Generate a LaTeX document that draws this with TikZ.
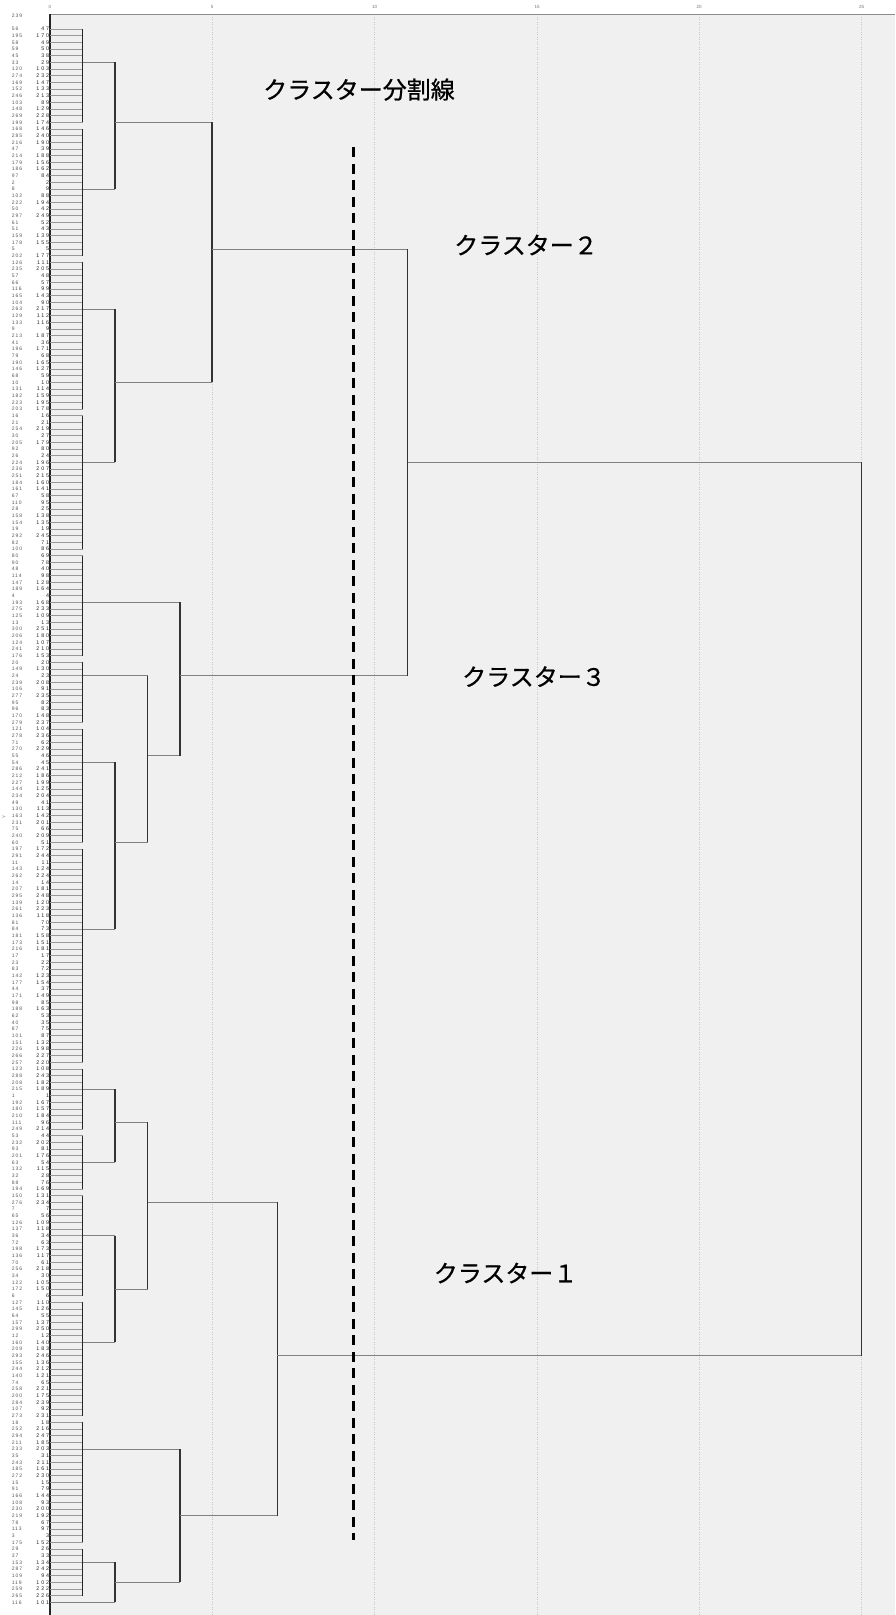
\documentclass[tikz,border=0pt]{standalone}
\usepackage{fontspec}
\setmainfont{Liberation Sans}
\newfontfamily\jpfont[FakeBold=0.7]{Noto Sans CJK JP}
\newfontfamily\casefont[LetterSpace=18]{Liberation Sans}
\newfontfamily\idfont[LetterSpace=36]{Liberation Sans}
\definecolor{plotbg}{HTML}{F0F0F0}
\newcommand{\rowy}[1]{29+6.6667*(#1)}

\begin{document}
\begin{tikzpicture}[x=1pt,y=-1pt]
    \tikzstyle{leaf}=[draw=black!40,line width=0.7pt]
    \tikzstyle{bar}=[draw=black!85,line width=1.1pt]
    \tikzstyle{hlink}=[draw=black!50,line width=0.8pt]
    \tikzstyle{vlink}=[draw=black!80,line width=1.3pt]
    \tikzstyle{grid}=[draw=black!22,line width=0.5pt,dotted]
    \tikzstyle{caselbl}=[anchor=west,inner sep=0pt,text=black!65,
        font=\casefont\fontsize{5}{5}\selectfont]
    \tikzstyle{idlbl}=[anchor=east,inner sep=0pt,text=black!85,
        font=\idfont\fontsize{5.3}{5.3}\selectfont]
    \tikzstyle{tick}=[inner sep=0pt,text=black!55,font=\fontsize{4.5}{4.5}\selectfont]
    \tikzstyle{jptext}=[inner sep=0pt,font=\jpfont\fontsize{24}{24}\selectfont]
    \tikzstyle{cutline}=[line width=2.8pt,dash pattern=on 10pt off 6.5pt]
    \useasboundingbox (0,0) rectangle (895,1615);
    % Background and axis
    \fill[white] (0,0) rectangle (895,1615);
    \fill[plotbg] (50,14) rectangle (895,1615);
    \foreach \v/\gx in {0/50,5/212,10/374.7,15/537,20/699,25/861.7}
        \node[tick] (t\v) at (\gx,7) {\v};
    \foreach \gx in {212,374.7,537,699,861.7} \draw[grid] (\gx,14) -- (\gx,1615);
    \draw[black!45,line width=0.8pt] (50,14) -- (895,14);
    \draw[black!85,line width=1.2pt] (50,14) -- (50,1615);
    \node[caselbl] (hdr) at (11.7,15.3) {239};
    \node[tick,rotate=90] (ylbl) at (4,817) {Y};
    % Cases
    \foreach \cs/\id [count=\i from 0] in {56/47,195/170,58/49,59/50,45/38,33/29,
        120/103,274/232,169/147,152/133,246/213,103/89,148/129,269/228,199/174,
        168/146,285/240,216/190,47/39,214/188,179/156,186/162,97/84,2/2,8/9,
        102/88,222/194,50/42,297/249,61/52,51/43,159/139,178/155,5/5,202/177,
        126/111,235/205,57/48,66/57,116/99,165/143,104/90,263/217,129/112,
        133/116,9/9,213/187,41/36,196/171,79/68,190/165,146/127,68/59,10/10,
        131/114,182/159,223/195,203/178,16/16,21/21,254/219,30/27,205/179,
        92/80,26/24,224/196,236/207,251/215,184/160,161/141,67/58,110/95,
        28/25,158/138,154/135,19/19,292/245,82/71,100/86,80/69,90/78,48/40,
        114/98,147/128,189/164,4/4,193/168,275/233,125/109,13/13,300/251,
        206/180,124/107,241/210,176/153,20/20,149/130,24/23,239/208,106/91,
        277/235,95/82,96/83,170/148,279/237,121/104,278/236,71/62,270/229,
        55/46,54/45,286/241,212/186,227/199,144/125,234/204,49/41,130/113,
        163/142,231/201,75/66,240/209,60/51,197/172,291/244,11/11,143/124,
        262/224,14/14,207/181,295/248,139/120,261/223,136/118,81/70,84/73,
        181/158,173/151,216/181,17/17,23/22,83/72,142/123,177/154,44/37,
        171/149,98/85,188/163,62/53,40/35,87/75,101/87,151/132,226/198,
        266/227,257/220,123/108,288/243,208/182,215/189,1/1,192/167,180/157,
        210/184,111/96,249/214,53/44,232/202,93/81,201/176,63/54,132/115,
        32/28,88/76,194/169,150/131,276/234,7/7,65/56,126/109,137/118,36/34,
        72/63,198/173,136/117,70/61,256/218,34/30,122/105,172/150,6/6,
        127/110,145/126,64/55,157/137,299/250,12/12,160/140,209/183,293/246,
        155/136,244/212,140/121,74/65,258/221,200/175,284/239,107/92,273/231,
        18/18,252/216,294/247,211/185,233/203,35/31,243/211,185/161,272/230,
        15/15,91/79,166/144,108/93,230/200,219/192,78/67,113/97,3/3,175/152,
        29/26,37/33,153/134,287/242,109/94,119/102,259/222,265/226,116/101} {
        \node[caselbl] (c\i) at (11.7,{\rowy{\i}}) {\cs};
        \node[idlbl] (d\i) at (49.3,{\rowy{\i}}) {\id};
        \coordinate (s\i) at (50,{\rowy{\i}});
        \coordinate (e\i) at (82.7,{\rowy{\i}});
    }
    \foreach \i in {0,...,235} \draw[leaf] (s\i) -- (e\i);
    % First level bars
    \foreach \nm/\a/\b/\o in {barA/0/14/5,barB/15/34/24,barC/35/57/42,
        barD/58/78/65,barE/79/94/86,barF/95/104/97,barG/105/122/110,
        barH/123/155/135,barI/156/165/159,barJ/166/174/170,barK/175/190/181,
        barL/191/208/197,barM/209/227/213,barN/228/235/230} {
        \draw[bar] (e\a) -- (e\b);
        \coordinate (\nm) at (e\o);
    }
    % Merges
    \foreach \nm/\gx/\o/\ca/\cb in {ab/115/14/barA/barB,cd/115/53/barC/barD,
        c2/212/33/ab/cd,gh/115/122/barG/barH,fgh/147.7/109/barF/gh,
        c3/180/97/barE/fgh,c23/407.8/65/c2/c3,ij/115/164/barI/barJ,
        kl/115/189/barK/barL,ijkl/147.7/176/ij/kl,nz/115/233/barN/s236,
        mn/180/223/barM/nz,c1/277.3/199/ijkl/mn,root/861.7/132/c23/c1} {
        \coordinate (\nm) at (\gx,{\rowy{\o}});
        \draw[hlink] (\ca) -- (\ca -| \nm);
        \draw[hlink] (\cb) -- (\cb -| \nm);
        \draw[vlink] (\nm |- \ca) -- (\nm |- \cb);
    }
    % Cut line and cluster names
    \coordinate (cuttop) at (353.2,147.3);
    \coordinate (cutbot) at (353.2,1539.6);
    \draw[cutline] (cuttop) -- (cutbot);
    \node[jptext] (cutlbl) at (359,89.6) {クラスター分割線};
    \node[jptext] (c2lbl) at (526,245) {クラスター２};
    \node[jptext] (c3lbl) at (534,676.6) {クラスター３};
    \node[jptext] (c1lbl) at (505.6,1273) {クラスター１};
\end{tikzpicture}
\end{document}
